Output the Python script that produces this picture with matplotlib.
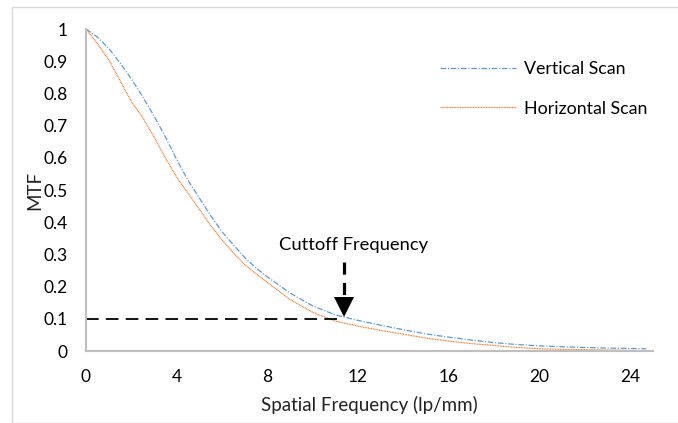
import numpy as np
import matplotlib
matplotlib.use("Agg")
import matplotlib.pyplot as plt
from matplotlib.patches import Rectangle

plt.rcParams['font.family'] = ['Lato', 'DejaVu Sans']

# spatial frequency (lp/mm) and measured MTF for the two scan directions
freq = [0, 0.5, 1, 1.5, 2, 2.5, 3, 3.5, 4, 4.5, 5, 5.5, 6, 6.5, 7, 7.5, 8, 9, 10,
        11, 12, 13, 14, 15, 16, 17, 18, 19, 20, 21, 22, 23, 24, 24.7]
mtf_vertical = [1.0, 0.975, 0.94, 0.895, 0.845, 0.79, 0.73, 0.665, 0.595, 0.53,
                0.475, 0.42, 0.37, 0.33, 0.29, 0.258, 0.23, 0.18, 0.14, 0.112,
                0.095, 0.08, 0.066, 0.053, 0.043, 0.034, 0.026, 0.02, 0.016,
                0.013, 0.011, 0.009, 0.008, 0.007]
mtf_horizontal = [1.0, 0.955, 0.905, 0.84, 0.775, 0.725, 0.665, 0.6, 0.54, 0.49,
                  0.44, 0.39, 0.345, 0.305, 0.268, 0.24, 0.213, 0.16, 0.12,
                  0.093, 0.077, 0.064, 0.052, 0.04, 0.031, 0.023, 0.017, 0.011,
                  0.007, 0.005, 0.004, 0.003, 0.002, 0.001]

cutoff_mtf = 0.1
cutoff_freq = 11.4

fig = plt.figure(figsize=(6.78, 4.23), dpi=100)
ax = fig.add_axes([0.1268, 0.1702, 0.8362, 0.7612])

# light frame around the chart area
fig.patches.append(Rectangle((12 / 678, 0), 1.0, 1 - 7 / 423, transform=fig.transFigure,
                             fill=False, edgecolor='#d9d9d9', linewidth=1.0))

ax.plot(freq, mtf_vertical, color='#5b9bd5', linewidth=0.9,
        dashes=(4.5, 1.4, 0.9, 1.4), label='Vertical Scan')
ax.plot(freq, mtf_horizontal, color='#ed7d31', linewidth=0.9,
        dashes=(0.8, 0.5), label='Horizontal Scan')

# cutoff marker: dashed level line, dashed shaft and solid arrow head
ax.plot([0, 11.2], [cutoff_mtf, cutoff_mtf], color='black', linewidth=1.3,
        dashes=(7, 4))
ax.plot([cutoff_freq, cutoff_freq], [0.276, 0.168], color='black', linewidth=2.3,
        dashes=(3.8, 2.6), solid_capstyle='butt')
ax.plot([cutoff_freq], [0.138], marker='v', markersize=14, color='black',
        markeredgewidth=0)
ax.text(11.8, 0.33, 'Cuttoff Frequency', ha='center', va='center', fontsize=13.2,
        color='black')

ax.set_xlim(0, 25)
ax.set_ylim(0, 1)
ax.set_xticks(np.arange(0, 25, 4))
ax.set_yticks(np.arange(0, 1.01, 0.1))
ax.set_yticklabels(['0', '0.1', '0.2', '0.3', '0.4', '0.5', '0.6', '0.7', '0.8', '0.9', '1'])
ax.tick_params(length=0, labelsize=12.5, colors='black')
ax.tick_params(axis='y', pad=13)
ax.tick_params(axis='x', pad=13)
for side in ['top', 'right']:
    ax.spines[side].set_visible(False)
for side in ['left', 'bottom']:
    ax.spines[side].set_color('#bfbfbf')
    ax.spines[side].set_linewidth(1.5)

ax.set_xlabel('Spatial Frequency (lp/mm)', fontsize=13.5, labelpad=8, color='#222222')
ax.set_ylabel('MTF', fontsize=13.5, labelpad=0, color='#222222')

leg = ax.legend(loc='upper left', bbox_to_anchor=(424 / 678, 1 - 45 / 423),
                bbox_transform=fig.transFigure, frameon=False, fontsize=12.8,
                handlelength=4.27, handletextpad=0.45, labelspacing=1.33)

fig.savefig('out.png', dpi=100)
